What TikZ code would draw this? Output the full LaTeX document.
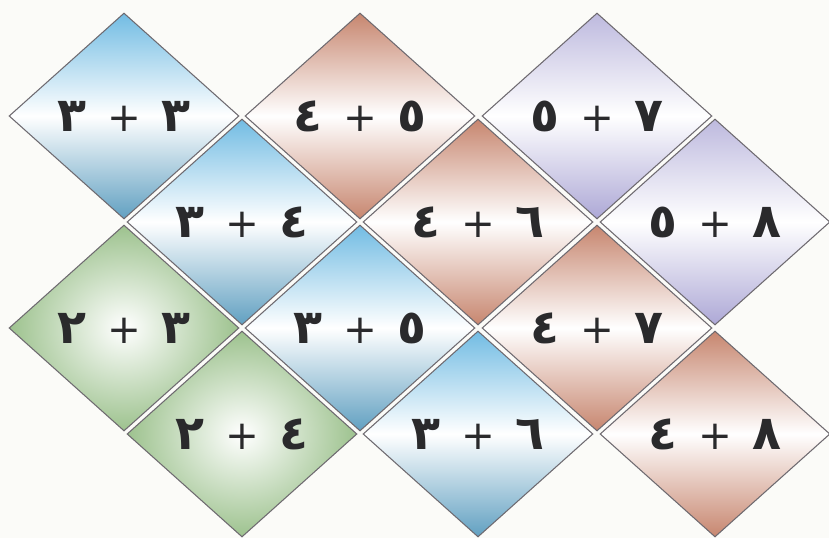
\documentclass[tikz,border=0pt]{standalone}
\usepackage{fontspec}
\newfontfamily\arabicfont[Script=Arabic]{DejaVu Sans}
\TeXXeTstate=1
\usepackage{xcolor}
\definecolor{tileblue}{HTML}{72BCE3}
\definecolor{tilebrown}{HTML}{C7866F}
\definecolor{tilelilac}{HTML}{ADA8D6}
\definecolor{tilegreen}{HTML}{9DC28E}
\definecolor{tileedge}{HTML}{6E6A70}
\definecolor{textink}{HTML}{2A2A2C}
\definecolor{paper}{HTML}{FBFBF8}
\usetikzlibrary{shapes.geometric}
\tikzset{
  sumtile/.style={draw=tileedge,line width=0.6pt,diamond,inner sep=0pt,minimum width=4.6cm,minimum height=4.12cm,text=textink,font=\arabicfont\fontsize{27}{30}\selectfont},
  bluetile/.style={sumtile,top color=tileblue,bottom color=tileblue!85!black,middle color=white},
  browntile/.style={sumtile,top color=tilebrown,bottom color=tilebrown,middle color=white},
  lilactile/.style={sumtile,top color=tilelilac!80,bottom color=tilelilac,middle color=white},
  greentile/.style={sumtile,inner color=white,outer color=tilegreen}
}
% first argument is read first (right side)
\newcommand{\tilesum}[2]{\beginR{\bfseries #1}\hspace{0.42cm}{\fontsize{23}{26}\selectfont+}\hspace{0.42cm}{\bfseries #2}\endR}

\begin{document}
\begin{tikzpicture}[x=0.02cm,y=-0.02cm]
\useasboundingbox (0,0) rectangle (829,538);
\fill[paper] (0,0) rectangle (829,538);
% row 1
\node[bluetile] (s33) at (124,116) {\tilesum{٣}{٣}};
\node[browntile] (s54) at (360,116) {\tilesum{٥}{٤}};
\node[lilactile] (s75) at (597,116) {\tilesum{٧}{٥}};
% row 2
\node[bluetile] (s43) at (242,222) {\tilesum{٤}{٣}};
\node[browntile] (s64) at (478,222) {\tilesum{٦}{٤}};
\node[lilactile] (s85) at (715,222) {\tilesum{٨}{٥}};
% row 3
\node[greentile] (s32) at (124,328) {\tilesum{٣}{٢}};
\node[bluetile] (s53) at (360,328) {\tilesum{٥}{٣}};
\node[browntile] (s74) at (597,328) {\tilesum{٧}{٤}};
% row 4
\node[greentile] (s42) at (242,434) {\tilesum{٤}{٢}};
\node[bluetile] (s63) at (478,434) {\tilesum{٦}{٣}};
\node[browntile] (s84) at (715,434) {\tilesum{٨}{٤}};
\end{tikzpicture}
\end{document}
